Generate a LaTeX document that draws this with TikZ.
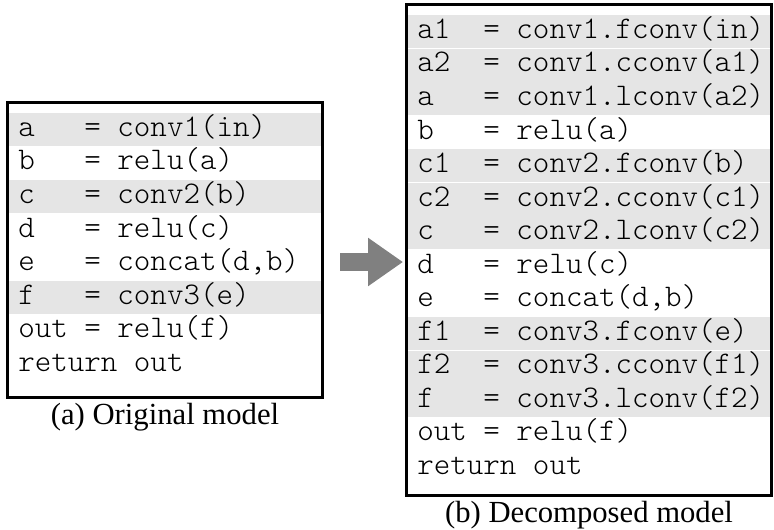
\documentclass[tikz,border=0pt]{standalone}
\usepackage{fontspec}
\setmainfont{Liberation Serif}
\setmonofont{Latin Modern Mono Light}
\usetikzlibrary{positioning}
\usetikzlibrary{shapes.arrows}

% one fixed-width blank
\newcommand{\blank}{\hphantom{0}}

\tikzset{
	codebox/.style={draw, line width=1.5pt, inner sep=0pt},
	codeline/.style={inner xsep=7pt, inner ysep=0pt, text width=#1, minimum height=24.75pt,
		text height=14.5pt, text depth=4.5pt, align=left, font=\fontsize{23.6pt}{24pt}\ttfamily},
	shaded/.style={fill=gray!20},
	caption/.style={inner sep=0pt, font=\fontsize{23pt}{27pt}\selectfont}
}

\begin{document}
\begin{tikzpicture}[x=0.75pt,y=-0.75pt]
	\useasboundingbox (0,0) rectangle (774,529);
	% original model
	\node[codebox, minimum width=235.5pt, minimum height=220.5pt] (A) at (165,250) {};
	\node[codeline=220pt, shaded, below=8.25pt of A.north] (A1) {a\blank\blank\blank=\blank conv1(in)};
	\node[codeline=220pt, below=0pt of A1] (A2) {b\blank\blank\blank=\blank relu(a)};
	\node[codeline=220pt, shaded, below=0pt of A2] (A3) {c\blank\blank\blank=\blank conv2(b)};
	\node[codeline=220pt, below=0pt of A3] (A4) {d\blank\blank\blank=\blank relu(c)};
	\node[codeline=220pt, below=0pt of A4] (A5) {e\blank\blank\blank=\blank concat(d,b)};
	\node[codeline=220pt, shaded, below=0pt of A5] (A6) {f\blank\blank\blank=\blank conv3(e)};
	\node[codeline=220pt, below=0pt of A6] (A7) {out\blank=\blank relu(f)};
	\node[codeline=220pt, below=0pt of A7] (A8) {return\blank out};
	\draw[line width=1.5pt] (A.north west) rectangle (A.south east);
	\node[caption, below=4pt of A] (Acap) {(a) Original model};
	% decomposed model
	\node[codebox, minimum width=273pt, minimum height=367.5pt] (B) at (589,250) {};
	\node[codeline=257.5pt, shaded, below=8.25pt of B.north] (B1) {a1\blank\blank=\blank conv1.fconv(in)};
	\node[codeline=257.5pt, shaded, below=0pt of B1] (B2) {a2\blank\blank=\blank conv1.cconv(a1)};
	\node[codeline=257.5pt, shaded, below=0pt of B2] (B3) {a\blank\blank\blank=\blank conv1.lconv(a2)};
	\node[codeline=257.5pt, below=0pt of B3] (B4) {b\blank\blank\blank=\blank relu(a)};
	\node[codeline=257.5pt, shaded, below=0pt of B4] (B5) {c1\blank\blank=\blank conv2.fconv(b)};
	\node[codeline=257.5pt, shaded, below=0pt of B5] (B6) {c2\blank\blank=\blank conv2.cconv(c1)};
	\node[codeline=257.5pt, shaded, below=0pt of B6] (B7) {c\blank\blank\blank=\blank conv2.lconv(c2)};
	\node[codeline=257.5pt, below=0pt of B7] (B8) {d\blank\blank\blank=\blank relu(c)};
	\node[codeline=257.5pt, below=0pt of B8] (B9) {e\blank\blank\blank=\blank concat(d,b)};
	\node[codeline=257.5pt, shaded, below=0pt of B9] (B10) {f1\blank\blank=\blank conv3.fconv(e)};
	\node[codeline=257.5pt, shaded, below=0pt of B10] (B11) {f2\blank\blank=\blank conv3.cconv(f1)};
	\node[codeline=257.5pt, shaded, below=0pt of B11] (B12) {f\blank\blank\blank=\blank conv3.lconv(f2)};
	\node[codeline=257.5pt, below=0pt of B12] (B13) {out\blank=\blank relu(f)};
	\node[codeline=257.5pt, below=0pt of B13] (B14) {return\blank out};
	\draw[line width=1.5pt] (B.north west) rectangle (B.south east);
	\node[caption, below=4pt of B] (Bcap) {(b) Decomposed model};
	% arrow
	\node[single arrow, fill=gray, inner sep=6.5pt, outer sep=0pt, minimum height=47pt,
		single arrow head extend=11.5pt, single arrow tip angle=70] (arr) at (365,262) {};
\end{tikzpicture}
\end{document}
